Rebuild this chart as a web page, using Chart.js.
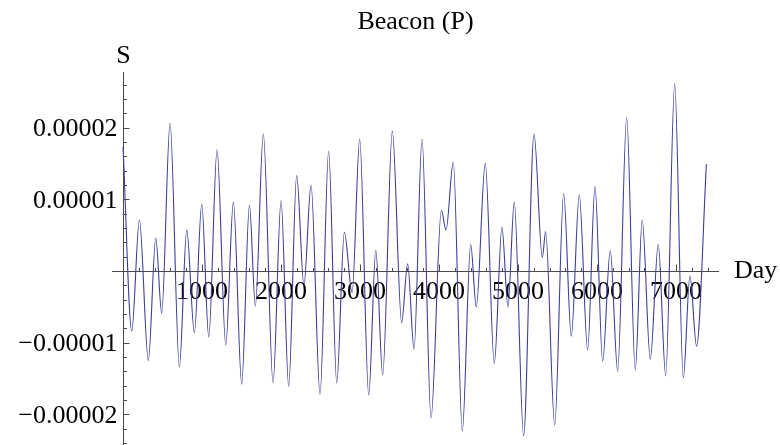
<!DOCTYPE html>
<html>
<head>
<meta charset="utf-8">
<title>Beacon (P)</title>
<script src="https://cdn.jsdelivr.net/npm/chart.js@4.4.1/dist/chart.umd.min.js"></script>
<style>
  html, body { margin: 0; padding: 0; background: #fff; }
  #wrap { width: 780px; height: 445px; }
</style>
</head>
<body>
<div id="wrap"><canvas id="plot" width="780" height="445"></canvas></div>
<script>
  // turning points of the S(day) curve
  const days = [
    0, 110, 207, 320, 414, 489, 595, 713, 806, 903,
    996, 1085, 1190, 1300, 1397, 1502, 1600, 1675, 1776, 1899,
    2000, 2097, 2198, 2290, 2380, 2494, 2603, 2705, 2802, 2900,
    2996, 3110, 3200, 3287, 3409, 3527, 3603, 3684, 3785, 3899,
    4030, 4089, 4181, 4295, 4401, 4472, 4586, 4700, 4797, 4873,
    4953, 5071, 5203, 5308, 5350, 5465, 5578, 5675, 5776, 5882,
    5975, 6072, 6168, 6262, 6376, 6485, 6573, 6675, 6776, 6870,
    6984, 7093, 7177, 7261, 7385
  ];
  const sValues = [
    1.73e-5, -0.84e-5, 0.71e-5, -1.25e-5, 0.46e-5, -0.59e-5, 2.06e-5, -1.34e-5, 0.57e-5, -0.86e-5,
    0.93e-5, -0.92e-5, 1.69e-5, -1.03e-5, 0.96e-5, -1.58e-5, 0.92e-5, -0.49e-5, 1.91e-5, -1.56e-5,
    0.98e-5, -1.61e-5, 1.33e-5, -0.2e-5, 1.2e-5, -1.72e-5, 1.67e-5, -1.56e-5, 0.54e-5, -0.3e-5,
    1.84e-5, -1.73e-5, 0.29e-5, -1.45e-5, 1.95e-5, -0.72e-5, 0.1e-5, -1.09e-5, 1.84e-5, -2.05e-5,
    0.85e-5, 0.57e-5, 1.52e-5, -2.23e-5, 0.37e-5, -0.5e-5, 1.5e-5, -1.29e-5, 0.61e-5, -0.5e-5,
    0.96e-5, -2.3e-5, 1.91e-5, 0.19e-5, 0.55e-5, -2.15e-5, 1.08e-5, -0.91e-5, 1.06e-5, -1.1e-5,
    1.18e-5, -1.26e-5, 0.29e-5, -1.4e-5, 2.14e-5, -1.38e-5, 0.71e-5, -1.23e-5, 0.37e-5, -1.46e-5,
    2.61e-5, -1.49e-5, -0.07e-5, -1.05e-5, 1.49e-5
  ];

  const dayTicks = [1000, 2000, 3000, 4000, 5000, 6000, 7000];
  const dayTickLabels = ["1000", "2000", "3000", "4000", "5000", "6000", "7000"];
  const sTicks = [-2e-5, -1e-5, 1e-5, 2e-5];
  const sTickLabels = ["\u22120.00002", "\u22120.00001", "0.00001", "0.00002"];

  const TITLE = "Beacon (P)";
  const X_NAME = "Day";
  const Y_NAME = "S";

  const FONT = '26px "Liberation Serif", "Times New Roman", serif';
  const AXIS_COLOR = "#4a4a4a";
  const LINE_COLOR = "#3d3d99";

  // axes cross at the origin, ticks point into the upper / right side
  const crossedAxes = {
    id: "crossedAxes",
    beforeDatasetsDraw(chart) {
      const ctx = chart.ctx;
      const xs = chart.scales.x;
      const ys = chart.scales.y;
      const area = chart.chartArea;
      const x0 = Math.round(xs.getPixelForValue(0)) + 0.5;
      const y0 = Math.round(ys.getPixelForValue(0)) + 0.5;

      ctx.save();
      ctx.strokeStyle = AXIS_COLOR;
      ctx.lineWidth = 1;
      ctx.beginPath();
      ctx.moveTo(area.left, y0);
      ctx.lineTo(area.right, y0);
      ctx.moveTo(x0, area.top);
      ctx.lineTo(x0, area.bottom);

      // minor ticks every 200 days and every 2e-6
      for (let d = 200; d <= xs.max; d += 200) {
        const px = Math.round(xs.getPixelForValue(d)) + 0.5;
        const len = d % 1000 === 0 ? 7 : 3.5;
        ctx.moveTo(px, y0);
        ctx.lineTo(px, y0 - len);
      }
      for (let k = -12; k <= 13; k++) {
        if (k === 0) continue;
        const py = Math.round(ys.getPixelForValue(k * 2e-6)) + 0.5;
        const len = k % 5 === 0 ? 6 : 3.5;
        ctx.moveTo(x0, py);
        ctx.lineTo(x0 + len, py);
      }
      ctx.stroke();

      ctx.fillStyle = "#000";
      ctx.font = FONT;
      ctx.textBaseline = "alphabetic";
      ctx.textAlign = "center";
      dayTicks.forEach((d, i) => {
        ctx.fillText(dayTickLabels[i], xs.getPixelForValue(d), y0 + 27);
      });
      ctx.textAlign = "right";
      sTicks.forEach((v, i) => {
        ctx.fillText(sTickLabels[i], x0 - 6, ys.getPixelForValue(v) + 8.5);
      });

      ctx.textAlign = "left";
      ctx.fillText(X_NAME, area.right + 15, y0 + 6);
      ctx.textAlign = "center";
      ctx.fillText(Y_NAME, x0, area.top - 9);
      ctx.fillText(TITLE, (area.left + area.right) / 2, 29);
      ctx.restore();
    },
  };

  new Chart(document.getElementById("plot"), {
    type: "line",
    data: {
      datasets: [
        {
          label: TITLE,
          data: days.map((d, i) => ({ x: d, y: sValues[i] })),
          borderColor: LINE_COLOR,
          borderWidth: 1.1,
          pointRadius: 0,
          fill: false,
          cubicInterpolationMode: "monotone",
        },
      ],
    },
    options: {
      responsive: false,
      devicePixelRatio: 1,
      animation: false,
      layout: { padding: { left: 112, right: 61, top: 72, bottom: 0 } },
      plugins: {
        legend: { display: false },
        title: { display: false },
        tooltip: { enabled: false },
      },
      scales: {
        x: { type: "linear", display: false, min: -140, max: 7545 },
        y: { type: "linear", display: false, min: -2.427e-5, max: 2.775e-5 },
      },
    },
    plugins: [crossedAxes],
  });
</script>
</body>
</html>
